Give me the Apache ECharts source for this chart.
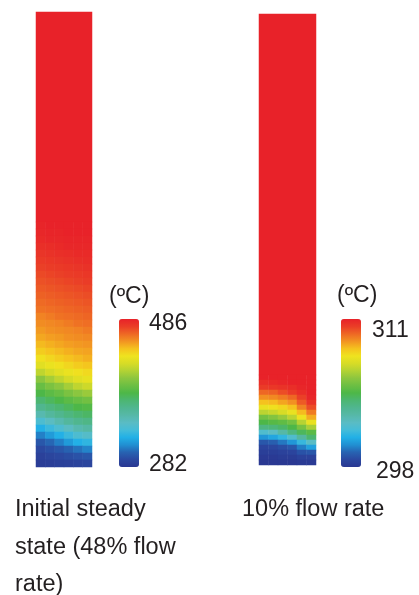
<!DOCTYPE html>
<html><head><meta charset="utf-8">
<script src="https://cdn.jsdelivr.net/npm/echarts@6/dist/echarts.min.js"></script>
<style>html,body{margin:0;padding:0;background:#fff}#c{width:419px;height:595px}</style>
</head><body><div id="c"></div>
<script>
// ---- data ----
const leftCaption = ['Initial steady', 'state (48% flow', 'rate)'];
const rightCaption = ['10% flow rate'];
const unitLabel = '(ºC)';
const leftRange = [282, 486];
const rightRange = [298, 311];
// uniform upper (hot) part of each column
const leftTopValue = 486;
const rightTopValue = 311;
// lower part of left column: rows top->bottom, 6 cells left->right (°C)
const leftRows = [
  [485,486,486,486,486,486],
  [484,485,485,486,486,486],
  [483,484,484,485,485,485],
  [481,482,483,484,484,484],
  [479,480,481,482,483,483],
  [477,478,479,480,481,482],
  [475,476,477,478,479,480],
  [473,474,475,476,477,478],
  [471,472,473,474,475,476],
  [469,470,471,472,473,474],
  [467,468,469,470,471,472],
  [465,466,467,468,469,470],
  [463,464,465,466,467,468],
  [459,461,463,464,465,466],
  [457,458,459,461,463,464],
  [454,456,457,458,459,461],
  [451,453,454,456,457,458],
  [447,449,451,453,454,455],
  [442,445,447,449,451,452],
  [436,439,442,445,447,449],
  [429,433,436,439,442,444],
  [418,424,429,433,436,438],
  [404,411,418,424,429,432],
  [393,399,404,411,418,422],
  [384,389,393,399,404,408],
  [374,379,384,389,393,396],
  [364,369,374,379,384,386],
  [351,358,364,369,374,377],
  [337,344,351,358,364,367],
  [323,330,337,344,351,355],
  [309,316,323,330,337,341],
  [298,303,309,316,323,327],
  [292,295,298,302,306,310],
  [288,290,292,294,296,298],
  [285,286,287,288,289,290]
];
// lower part of right column (°C)
const rightRows = [
  [311.0,311.0,311.0,311.0,311.0,311.0],
  [310.7,310.8,310.9,311.0,311.0,311.0],
  [310.4,310.5,310.6,310.7,310.9,311.0],
  [309.7,309.8,310.1,310.4,310.7,311.0],
  [309.1,309.2,309.4,309.7,310.3,310.9],
  [308.4,308.5,308.8,309.1,309.9,310.6],
  [307.6,307.8,308.0,308.4,309.3,310.1],
  [306.6,306.8,307.1,307.6,308.5,309.4],
  [305.3,305.6,306.0,306.6,307.7,308.7],
  [304.5,304.7,304.9,305.3,306.5,307.6],
  [303.5,303.7,304.0,304.5,305.4,306.3],
  [301.6,301.9,302.6,303.5,304.2,304.8],
  [300.1,300.4,300.9,301.6,302.8,303.9],
  [299.0,299.2,299.6,300.1,301.0,301.9],
  [298.5,298.6,298.8,299.0,299.7,300.3],
  [298.3,298.3,298.4,298.5,298.9,299.0],
  [298.1,298.1,298.2,298.2,298.4,298.4],
  [298.0,298.0,298.0,298.0,298.1,298.1]
];
const palette = ['#2a3892','#2b48a0','#2763b2','#2190d2','#22b0e6','#45bcd8','#5abcc4','#56b8a8','#50b690','#4cb672','#4db748','#6cbf43','#8cc63f','#b3d234','#d7dc26','#efe31f','#f5c21e','#f29322','#ee6724','#ea3d27','#e82229'];

// ---- build ----
function toCells(rows){const d=[];rows.forEach((r,ri)=>r.forEach((v,ci)=>d.push([ci,ri,v])));return d;}
function cats(n){return Array.from({length:n},(_,i)=>String(i));}
const FONT = '"Liberation Sans", Arial, sans-serif';
const TXT = '#231f20';
const grids = [
  {left:36, top:12, width:56, height:210},
  {left:36, top:222, width:56, height:245},
  {left:259, top:14, width:57, height:361},
  {left:259, top:375, width:57, height:90}
];
const colsPer = [1, leftRows[0].length, 1, rightRows[0].length];
const rowsPer = [1, leftRows.length, 1, rightRows.length];
const xAxes = grids.map((g,i)=>({type:'category', gridIndex:i, data:cats(colsPer[i]), show:false}));
const yAxes = grids.map((g,i)=>({type:'category', gridIndex:i, data:cats(rowsPer[i]), show:false, inverse:true}));
const seriesData = [toCells([[leftTopValue]]), toCells(leftRows), toCells([[rightTopValue]]), toCells(rightRows)];
const series = seriesData.map((d,i)=>({type:'heatmap', xAxisIndex:i, yAxisIndex:i, data:d, itemStyle:{borderWidth:0}, emphasis:{disabled:true}, progressive:0}));

function txt(s, x, y, size){
  return {type:'text', x:x, y:y, style:{text:s, font: size+'px '+FONT, fill:TXT, textAlign:'left', textVerticalAlign:'middle', align:'left', verticalAlign:'middle'}};
}
const graphics = [
  txt(unitLabel, 109, 297, 23),
  txt(String(leftRange[1]), 149, 324, 23),
  txt(String(leftRange[0]), 149, 465, 23),
  txt(unitLabel, 337, 296, 23),
  txt(String(rightRange[1]), 372, 331, 23),
  txt(String(rightRange[0]), 376, 472, 23)
];
leftCaption.forEach((s,i)=>graphics.push(txt(s, 15, 510 + i*37.5, 23.5)));
rightCaption.forEach((s,i)=>graphics.push(txt(s, 242, 510 + i*37.5, 23.5)));

const chart = echarts.init(document.getElementById('c'), null, {renderer:'canvas'});
chart.setOption({
  animation:false,
  backgroundColor:'#ffffff',
  grid: grids,
  xAxis: xAxes,
  yAxis: yAxes,
  visualMap: [
    {type:'continuous', min:leftRange[0], max:leftRange[1], seriesIndex:[0,1], orient:'vertical',
     left:119, top:319, itemWidth:20, itemHeight:148, padding:0, calculable:false, hoverLink:false,
     inRange:{color:palette}},
    {type:'continuous', min:rightRange[0], max:rightRange[1], seriesIndex:[2,3], orient:'vertical',
     left:341, top:319, itemWidth:20, itemHeight:148, padding:0, calculable:false, hoverLink:false,
     inRange:{color:palette}}
  ],
  graphic: graphics,
  series: series
});
</script></body></html>
